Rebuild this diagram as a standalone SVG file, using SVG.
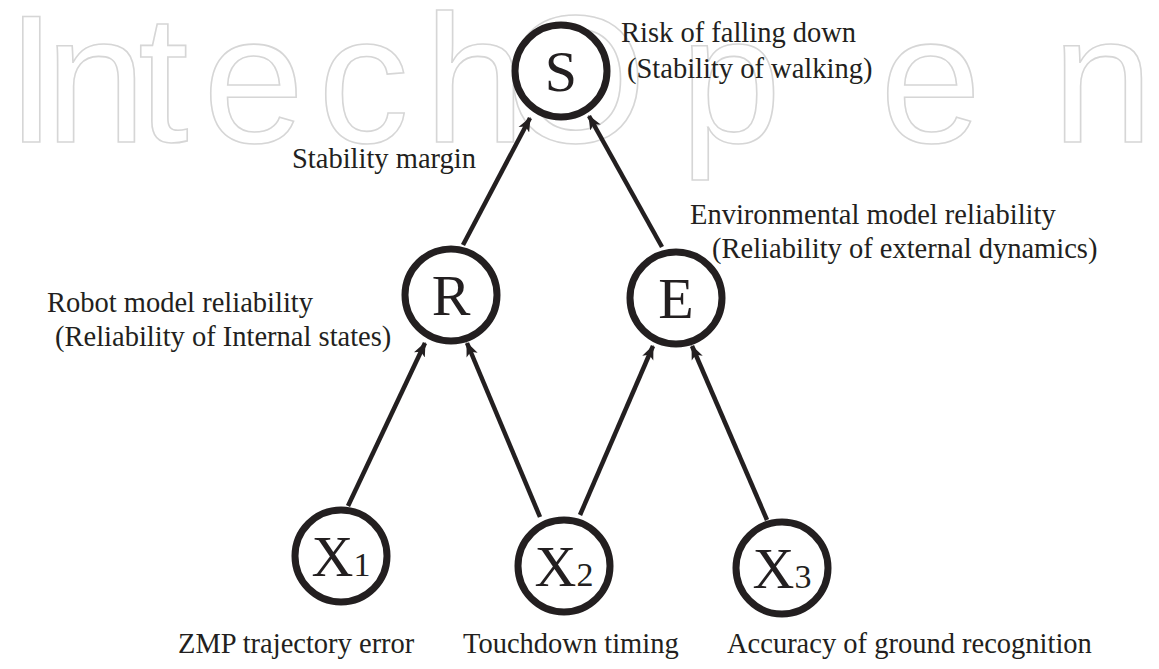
<svg xmlns="http://www.w3.org/2000/svg" width="1159" height="669" viewBox="0 0 1159 669">
<defs>
<style>
.wm{font-family:"Liberation Sans",Arial,sans-serif;font-size:182px;fill:#ffffff;stroke:#d6d6d6;stroke-width:1.6;}
.node circle{fill:#ffffff;stroke:#231f20;stroke-width:7;}
.nl{font-family:"Liberation Serif","Times New Roman",serif;font-size:58px;fill:#231f20;}
.sub{font-size:34px;}
.lbl{font-family:"Liberation Serif","Times New Roman",serif;font-size:28.5px;fill:#231f20;}
.edge{stroke:#231f20;stroke-width:4.5;fill:none;marker-end:url(#ah);}
</style>
<marker id="ah" viewBox="0 0 12 10" refX="11" refY="5" markerWidth="3.2" markerHeight="2.8" orient="auto" markerUnits="strokeWidth">
<path d="M0,0 L12,5 L0,10 L3,5 Z" fill="#231f20"/>
</marker>
</defs>
<rect width="1159" height="669" fill="#ffffff"/>
<g id="watermark">
<text class="wm" y="142"><tspan x="6">I</tspan><tspan x="45">n</tspan><tspan x="138">t</tspan><tspan x="203">e</tspan><tspan x="318">c</tspan><tspan x="424">h</tspan><tspan x="505">O</tspan><tspan x="680">p</tspan><tspan x="880">e</tspan><tspan x="1052">n</tspan></text>
</g>
<g id="connectors">
<line class="edge" x1="463" y1="245" x2="530" y2="118"/>
<line class="edge" x1="662" y1="247" x2="589" y2="116"/>
<line class="edge" x1="348" y1="506" x2="425" y2="343"/>
<line class="edge" x1="540" y1="517" x2="467" y2="343"/>
<line class="edge" x1="580" y1="515" x2="653" y2="346"/>
<line class="edge" x1="767" y1="520" x2="692" y2="346"/>
</g>
<g id="node-S" class="node"><circle cx="561" cy="71" r="46"/><text class="nl" x="561" y="91" text-anchor="middle">S</text></g>
<g id="node-R" class="node"><circle cx="451" cy="295" r="46"/><text class="nl" x="451" y="315" text-anchor="middle">R</text></g>
<g id="node-E" class="node"><circle cx="676" cy="298" r="46"/><text class="nl" x="676" y="318" text-anchor="middle">E</text></g>
<g id="node-X1" class="node"><circle cx="341" cy="556" r="46"/><text class="nl" x="341" y="576" text-anchor="middle">X<tspan class="sub">1</tspan></text></g>
<g id="node-X2" class="node"><circle cx="564" cy="566" r="46"/><text class="nl" x="564" y="586" text-anchor="middle">X<tspan class="sub">2</tspan></text></g>
<g id="node-X3" class="node"><circle cx="782" cy="568" r="46"/><text class="nl" x="782" y="588" text-anchor="middle">X<tspan class="sub">3</tspan></text></g>
<g id="labels">
<text class="lbl" x="621" y="42">Risk of falling down</text>
<text class="lbl" x="627" y="78">(Stability of walking)</text>
<text class="lbl" x="292" y="168">Stability margin</text>
<text class="lbl" x="690" y="224">Environmental model reliability</text>
<text class="lbl" x="712" y="258">(Reliability of external dynamics)</text>
<text class="lbl" x="47" y="312">Robot model reliability</text>
<text class="lbl" x="55" y="346">(Reliability of Internal states)</text>
<text class="lbl" x="178" y="653">ZMP trajectory error</text>
<text class="lbl" x="463" y="653">Touchdown timing</text>
<text class="lbl" x="727" y="653">Accuracy of ground recognition</text>
</g>
</svg>
